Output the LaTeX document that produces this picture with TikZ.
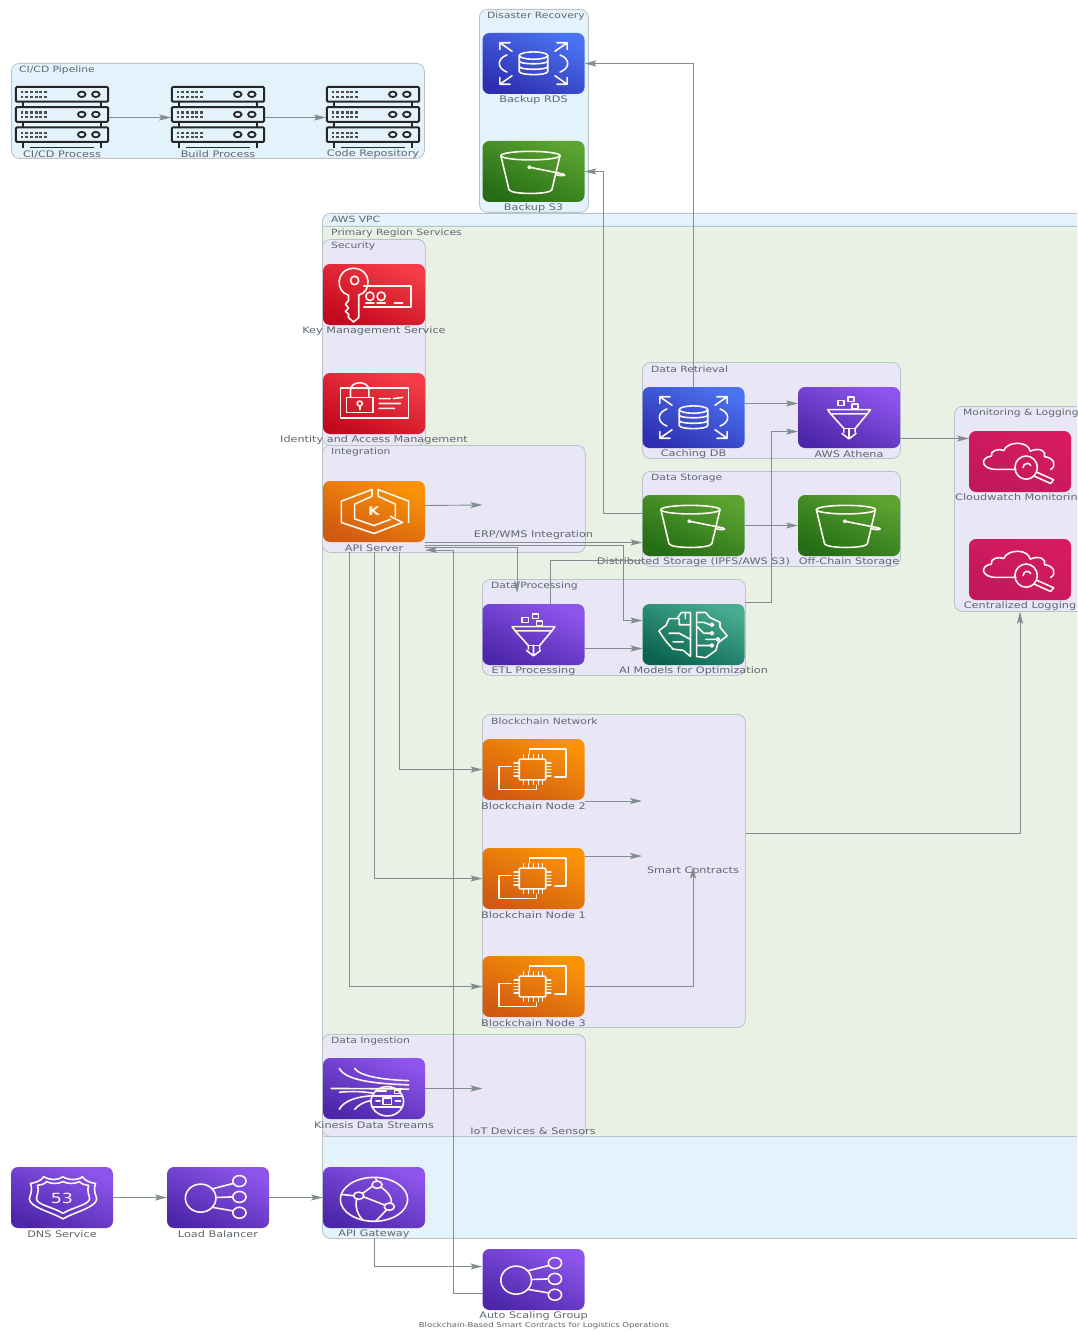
\documentclass[tikz,border=0pt]{standalone}
\usepackage{fontspec}
\setmainfont[FakeStretch=1.25]{DejaVu Sans}
\usetikzlibrary{arrows.meta}
\definecolor{linec}{HTML}{828D92}
\definecolor{edgec}{HTML}{B9C3C8}
\definecolor{textc}{HTML}{5E676E}
\definecolor{bluebg}{HTML}{E3F2FB}
\definecolor{greenbg}{HTML}{E8F1E4}
\definecolor{lavbg}{HTML}{E9E6F6}
\definecolor{iconline}{HTML}{FBF6EE}
\definecolor{rdA}{HTML}{C20A1E}\definecolor{rdB}{HTML}{F53C48}
\definecolor{orA}{HTML}{D05A12}\definecolor{orB}{HTML}{FA9405}
\definecolor{puA}{HTML}{4D27AA}\definecolor{puB}{HTML}{8E55EC}
\definecolor{blA}{HTML}{2E2FB0}\definecolor{blB}{HTML}{4A72F2}
\definecolor{grA}{HTML}{246D14}\definecolor{grB}{HTML}{5CA332}
\definecolor{teA}{HTML}{0A6350}\definecolor{teB}{HTML}{48AC92}
\definecolor{piA}{HTML}{C2185B}\definecolor{piB}{HTML}{D81B60}
\tikzset{
  cluster/.style={draw=edgec,line width=.8pt,rounded corners=8pt},
  bluec/.style={cluster,fill=bluebg},
  greenc/.style={cluster,fill=greenbg,rounded corners=2pt},
  lavc/.style={cluster,fill=lavbg},
  title/.style={anchor=west,yshift=-.8pt,text=textc,font=\fontsize{8.6}{10}\selectfont,inner sep=0pt},
  lab/.style={text=textc,font=\fontsize{9}{11}\selectfont,inner sep=0pt},
  conn/.style={draw=linec,line width=.9pt,-{Stealth[length=12pt,width=6pt,inset=2.5pt]}},
  plainconn/.style={draw=linec,line width=.9pt},
  svcbox/.style={minimum width=102pt,minimum height=61pt,inner sep=0pt,outer sep=0pt,rounded corners=7pt,shading=axis},
  rdI/.style={svcbox,bottom color=rdA,top color=rdB,shading angle=-25},
  orI/.style={svcbox,bottom color=orA,top color=orB,shading angle=-25},
  puI/.style={svcbox,bottom color=puA,top color=puB,shading angle=-25},
  blI/.style={svcbox,bottom color=blA,top color=blB,shading angle=-25},
  grI/.style={svcbox,bottom color=grA,top color=grB,shading angle=-25},
  teI/.style={svcbox,bottom color=teA,top color=teB,shading angle=-25},
  piI/.style={svcbox,bottom color=piA,top color=piB,shading angle=-25},
  wht/.style={draw=iconline,line width=1.6pt,line join=round,line cap=round},
  srvbox/.style={minimum width=94pt,minimum height=61pt,inner sep=0pt,outer sep=0pt},
  hollow/.style={minimum width=102pt,minimum height=61pt,inner sep=0pt,outer sep=0pt},
  iconchar/.style={text=iconline,inner sep=0pt},
}
% #1 name, #2 cx, #3 top y, #4 style, #5 label
\newcommand{\svc}[5]{%
  \node[#4] (#1) at (#2,#3+30.5) {};
  \node[lab] (#1-l) at (#2,#3+67) {#5};
}
\newcommand{\srv}[3]{%
  \node[srvbox] (#1) at (#2,117.5) {};
  \node[lab] (#1-l) at (#2,154.5) {#3};
  \begin{scope}[shift={(#1.north west)},x=.94pt,y=-.61pt]
    \foreach \yy in {0,33,66}{
      \draw[black!85,line width=2pt,rounded corners=1pt] (1,\yy) rectangle (99,\yy+24);
      \foreach \xx in {6,11,16,21,26,31}{
        \fill[black!70] (\xx,\yy+7) rectangle ++(3,3.6);
        \fill[black!70] (\xx,\yy+14) rectangle ++(3,3.6);
      }
      \draw[black!85,line width=1.8pt] (71,\yy+12) circle[x radius=4,y radius=4.5];
      \draw[black!85,line width=1.8pt] (86,\yy+12) circle[x radius=4,y radius=4.5];
    }
    \foreach \xx in {8,92}{
      \draw[black!85,line width=2pt] (\xx,24) -- (\xx,33) (\xx,57) -- (\xx,66) (\xx,90) -- (\xx,100);
    }
    \draw[black!85,line width=1.6pt] (16,99) -- (84,99);
  \end{scope}
}
\newenvironment{iconf}[1]{\begin{scope}[shift={(#1.north west)},x=1.02pt,y=-.61pt,every path/.append style={wht}]}{\end{scope}}
\newcommand{\rdsicon}[1]{\begin{iconf}{#1}
  \draw (36,37) -- (36,63) .. controls (36,70) and (64,70) .. (64,63) -- (64,37);
  \draw (50,37) ellipse[x radius=14,y radius=6];
  \draw (36,46) .. controls (36,52) and (64,52) .. (64,46);
  \draw (36,55) .. controls (36,61) and (64,61) .. (64,55);
  \draw (29,30) -- (17,16) (17,27) -- (17,16) -- (27,16);
  \draw (71,30) -- (83,16) (83,27) -- (83,16) -- (73,16);
  \draw (29,70) -- (17,84) (17,73) -- (17,84) -- (27,84);
  \draw (71,70) -- (83,84) (83,73) -- (83,84) -- (73,84);
  \draw (24,36) .. controls (14,42) and (14,58) .. (24,64);
  \draw (76,36) .. controls (86,42) and (86,58) .. (76,64);
\end{iconf}}
\newcommand{\bucketicon}[1]{\begin{iconf}{#1}
  \draw (47,24) ellipse[x radius=29,y radius=7];
  \draw (18,24) -- (26,80) .. controls (28,88) and (66,88) .. (68,80) -- (76,24);
  \draw (46,43) -- (79,54) .. controls (84,57) and (76,58) .. (72,55);
  \fill[iconline,draw=none] (46,43) circle[x radius=2,y radius=3];
\end{iconf}}
\newcommand{\funnelicon}[1]{\begin{iconf}{#1}
  \draw (39,22) rectangle (45,30) (49,16) rectangle (55,24) (53,28) rectangle (59,36);
  \draw (29,37) -- (71,37) (29,37) -- (32,44) -- (68,44) -- (71,37);
  \draw (32,44) -- (45,68) -- (45,74) (68,44) -- (56,68) -- (56,74);
  \draw (45,68) -- (56,68);
  \draw (50,68) -- (50,84) (43,76) -- (50,85) -- (57,76);
\end{iconf}}
\newcommand{\chipicon}[1]{\begin{iconf}{#1}
  \draw[rounded corners=1pt] (36,33) rectangle (62,67);
  \foreach \xx in {40,45,50,55,59}{\draw (\xx,33) -- (\xx,26) (\xx,67) -- (\xx,74);}
  \foreach \yy in {39,45,50,55,61}{\draw (36,\yy) -- (31,\yy) (62,\yy) -- (67,\yy);}
  \draw (46,24) -- (46,16) -- (82,16) -- (82,62) -- (71,62);
  \draw (28,45) -- (16,45) -- (16,83) -- (53,83) -- (53,76);
\end{iconf}}
\newcommand{\cloudicon}[1]{\begin{iconf}{#1}
  \draw (46,63) -- (27,63) .. controls (12,63) and (10,44) .. (22,41)
     .. controls (20,32) and (30,28) .. (34,32) .. controls (38,16) and (58,16) .. (60,33)
     .. controls (70,26) and (76,34) .. (74,42) .. controls (84,44) and (86,58) .. (80,63);
  \draw (56,60) circle[x radius=11,y radius=19];
  \draw (56,60) ++(-3,0) arc[start angle=180,end angle=330,x radius=4,y radius=7];
  \draw (64,74) -- (80,86) -- (83,80) -- (67,68);
\end{iconf}}
\newcommand{\kmsicon}[1]{\begin{iconf}{#1}
  \draw (25,51) .. controls (12,46) and (12,8) .. (30,7) .. controls (48,8) and (48,46) .. (35,51)
     -- (35,88) -- (30,95) -- (25,88) -- (25,82) -- (22,78) -- (25,72) -- (22,66) -- (25,60) -- cycle;
  \draw (31,27) circle[x radius=4,y radius=7];
  \draw (40,36) -- (86,36) -- (86,70) -- (40,70);
  \draw (46,53) circle[x radius=4,y radius=7] (57,53) circle[x radius=4,y radius=7];
  \draw (42,64) -- (50,64) (53,64) -- (61,64) (70,64) -- (78,64);
\end{iconf}}
\newcommand{\iamicon}[1]{\begin{iconf}{#1}
  \draw (17,25) rectangle (84,74);
  \draw (23,65) -- (23,40) -- (49,40) -- (49,65) -- cycle;
  \draw (27,40) -- (27,28) .. controls (27,12) and (45,12) .. (45,28) -- (45,40);
  \draw (36,50) circle[x radius=2.5,y radius=4];
  \draw (36,54) -- (36,60);
  \draw (55,42) -- (66,42) (69,42) -- (78,40) (55,50) -- (76,50) (55,58) -- (70,58);
\end{iconf}}
\newcommand{\eksicon}[1]{\begin{iconf}{#1}
  \draw (48,14) -- (18,33) -- (18,68) -- (50,86) -- (78,68) -- (66,58);
  \draw (54,14) -- (84,33) -- (84,68);
  \draw (48,14) -- (48,25) -- (31,38) -- (31,62) -- (50,73) -- (66,63);
  \draw (54,14) -- (54,25) -- (71,38) -- (71,58);
\end{iconf}
  \node[iconchar,font=\bfseries\fontsize{12}{12}\selectfont] (#1-k) at (#1) {K};
}
\newcommand{\brainicon}[1]{\begin{iconf}{#1}
  \draw (47,14) -- (38,14) -- (34,24) -- (26,24) -- (23,35) -- (16,44) -- (20,54) -- (24,63) -- (30,74) -- (40,76) -- (47,86) -- cycle;
  \draw (53,14) -- (53,86) -- (62,88) -- (72,76) -- (74,64) -- (83,52) -- (76,38) -- (76,30) -- (66,22) -- (62,14) -- cycle;
  \draw (26,48) -- (36,48) -- (47,58) (30,62) -- (40,62) (36,24) -- (36,34) -- (47,34) (42,14) -- (42,24);
  \draw (53,36) -- (60,48) -- (66,48) (53,30) -- (60,30) -- (66,34) (53,68) -- (66,68) (62,58) -- (72,58);
  \foreach \p/\q in {68/34,68/48,74/58,68/68}{\draw (\p,\q) circle[x radius=1.6,y radius=2.6];}
\end{iconf}}
\newcommand{\shieldicon}[1]{\begin{iconf}{#1}
  \draw (19,27) .. controls (24,26) and (30,22) .. (32,16) .. controls (38,22) and (46,22) .. (51,16) .. controls (56,22) and (66,22) .. (70,16) .. controls (72,22) and (78,26) .. (83,27)
     .. controls (80,40) and (84,48) .. (84,52) .. controls (84,66) and (62,74) .. (51,85) .. controls (40,74) and (18,66) .. (18,52) .. controls (18,48) and (22,40) .. (19,27) -- cycle;
  \draw (26,30) .. controls (32,29) and (34,26) .. (35,24) .. controls (40,28) and (46,28) .. (51,24) .. controls (56,28) and (62,28) .. (67,24) .. controls (68,26) and (70,29) .. (76,30)
     .. controls (74,40) and (77,46) .. (77,52) .. controls (77,62) and (60,66) .. (51,76) .. controls (42,66) and (25,62) .. (25,52) .. controls (25,46) and (28,40) .. (26,30) -- cycle;
\end{iconf}
  \node[iconchar,font=\fontsize{14}{14}\selectfont] (#1-k) at ([yshift=-1pt]#1.center) {53};
}
\newcommand{\globeicon}[1]{\begin{iconf}{#1}
  \draw (50,53) ellipse[x radius=33,y radius=36];
  \draw (53,29) circle[x radius=5,y radius=6] (35,47) circle[x radius=5,y radius=6] (65,65) circle[x radius=5,y radius=6];
  \draw (48,32) -- (39,43) (40,49) -- (60,62);
  \draw (57,33) .. controls (64,42) and (68,50) .. (67,59);
  \draw (33,53) .. controls (31,66) and (34,78) .. (39,87);
  \draw (30,47) -- (18,45) (62,71) -- (52,88);
  \draw (53,23) -- (51,17);
\end{iconf}}
\newcommand{\hubicon}[1]{\begin{iconf}{#1}
  \draw (33,51) ellipse[x radius=15,y radius=23];
  \draw (71,23) ellipse[x radius=6.5,y radius=9] (71,49) ellipse[x radius=6.5,y radius=9] (71,75) ellipse[x radius=6.5,y radius=9];
  \draw (44,36) -- (65,27) (48,50) -- (64,49) (44,66) -- (65,72);
\end{iconf}}
\newcommand{\kinesisicon}[1]{\begin{iconf}{#1}
  \draw (16,17) .. controls (22,36) and (48,42) .. (84,44);
  \draw (31,17) .. controls (36,30) and (60,36) .. (84,37);
  \draw (8,50) .. controls (20,50) and (36,50) .. (84,51);
  \draw (16,56) .. controls (30,54) and (40,55) .. (50,58);
  \draw (16,84) .. controls (20,72) and (30,64) .. (47,62);
  \draw (31,84) .. controls (34,78) and (40,72) .. (46,70);
  \draw (63,71) ellipse[x radius=16,y radius=24];
  \draw (48,62) -- (78,62) (48,80) -- (78,80);
  \draw (59,66) rectangle (67,76) (70,52) rectangle (76,58) (52,54) -- (62,54) (52,70) -- (56,70) (71,70) -- (76,70);
\end{iconf}}

\begin{document}
\begin{tikzpicture}[x=1pt,y=-1pt]
\path[use as bounding box] (0,0) rectangle (1077,1332);
\clip (0,0) rectangle (1077,1332);
\fill[white] (0,0) rectangle (1077,1332);

% clusters
\node[bluec,minimum width=413pt,minimum height=95pt,anchor=north west,inner sep=0pt] (cicdbox) at (11,63) {};
\node[title] (cicdt) at (19,69) {CI/CD Pipeline};
\node[bluec,minimum width=109pt,minimum height=203pt,anchor=north west,inner sep=0pt] (drbox) at (479,9) {};
\node[title] (drt) at (487,15) {Disaster Recovery};
\node[bluec,minimum width=800pt,minimum height=1025pt,anchor=north west,inner sep=0pt] (vpcbox) at (322,213) {};
\node[title] (vpct) at (331,219) {AWS VPC};
\node[greenc,minimum width=800pt,minimum height=910pt,anchor=north west,inner sep=0pt] (primbox) at (322,226) {};
\node[title] (primt) at (331,232) {Primary Region Services};
\node[lavc,minimum width=103pt,minimum height=206pt,anchor=north west,inner sep=0pt] (secbox) at (322,239) {};
\node[title] (sect) at (331,245) {Security};
\node[lavc,minimum width=263pt,minimum height=107pt,anchor=north west,inner sep=0pt] (intbox) at (322,445) {};
\node[title] (intt) at (331,451) {Integration};
\node[lavc,minimum width=258pt,minimum height=96pt,anchor=north west,inner sep=0pt] (retbox) at (642,362) {};
\node[title] (rett) at (651,368) {Data Retrieval};
\node[lavc,minimum width=258pt,minimum height=95pt,anchor=north west,inner sep=0pt] (stobox) at (642,471) {};
\node[title] (stot) at (651,477) {Data Storage};
\node[lavc,minimum width=160pt,minimum height=205pt,anchor=north west,inner sep=0pt] (monbox) at (954,406) {};
\node[title] (mont) at (963,412) {Monitoring \& Logging};
\node[lavc,minimum width=263pt,minimum height=96pt,anchor=north west,inner sep=0pt] (probox) at (482,579) {};
\node[title] (prot) at (491,585) {Data Processing};
\node[lavc,minimum width=263pt,minimum height=313pt,anchor=north west,inner sep=0pt] (blkbox) at (482,714) {};
\node[title] (blkt) at (491,720) {Blockchain Network};
\node[lavc,minimum width=263pt,minimum height=102pt,anchor=north west,inner sep=0pt] (ingbox) at (322,1034) {};
\node[title] (ingt) at (331,1040) {Data Ingestion};

% services
\srv{ci}{62}{CI/CD Process}
\srv{build}{218}{Build Process}
\srv{repo}{373}{Code Repository}
\svc{brds}{533.5}{33}{blI}{Backup RDS}\rdsicon{brds}
\svc{bs3}{533.5}{141}{grI}{Backup S3}\bucketicon{bs3}
\svc{kms}{374}{264}{rdI}{Key Management Service}\kmsicon{kms}
\svc{iam}{374}{373}{rdI}{Identity and Access Management}\iamicon{iam}
\svc{api}{374}{481}{orI}{API Server}\eksicon{api}
\svc{cache}{693.5}{387}{blI}{Caching DB}\rdsicon{cache}
\svc{athena}{849}{387}{puI}{AWS Athena}\funnelicon{athena}
\svc{dist}{693.5}{495}{grI}{Distributed Storage (IPFS/AWS S3)}\bucketicon{dist}
\svc{off}{849}{495}{grI}{Off-Chain Storage}\bucketicon{off}
\svc{cw}{1020}{431}{piI}{Cloudwatch Monitoring}\cloudicon{cw}
\svc{logs}{1020}{539}{piI}{Centralized Logging}\cloudicon{logs}
\svc{etl}{533.5}{604}{puI}{ETL Processing}\funnelicon{etl}
\svc{ai}{693.5}{604}{teI}{AI Models for Optimization}\brainicon{ai}
\svc{nodeb}{533.5}{739}{orI}{Blockchain Node 2}\chipicon{nodeb}
\svc{nodea}{533.5}{848}{orI}{Blockchain Node 1}\chipicon{nodea}
\svc{nodec}{533.5}{956}{orI}{Blockchain Node 3}\chipicon{nodec}
\svc{kin}{374}{1058}{puI}{Kinesis Data Streams}\kinesisicon{kin}
\svc{gw}{374}{1167}{puI}{API Gateway}\globeicon{gw}
\svc{dns}{62}{1167}{puI}{DNS Service}\shieldicon{dns}
\svc{lb}{218}{1167}{puI}{Load Balancer}\hubicon{lb}
\svc{asg}{533.5}{1249}{puI}{Auto Scaling Group}\hubicon{asg}
\node[hollow] (erp) at (533.5,511.5) {};
\node[lab] (erp-l) at (533.5,535) {ERP/WMS Integration};
\node[hollow] (sc) at (693,830) {};
\node[lab] (sc-l) at (693,870) {Smart Contracts};
\node[hollow] (iot) at (533.5,1098) {};
\node[lab] (iot-l) at (533,1131) {IoT Devices \& Sensors};
\node[text=textc,font=\fontsize{6.8}{8}\selectfont,inner sep=0pt] (maintitle) at (544,1326) {Blockchain-Based Smart Contracts for Logistics Operations};

% connectors
\draw[conn] (ci.east) -- (build.west);
\draw[conn] (build.east) -- (repo.west);
\draw[conn] ([yshift=12.5pt]dist.west) -- ++(-39,0) |- (bs3.east);
\draw[conn] (cache.north) |- (brds.east);
\draw[conn] ([yshift=14pt]cache.east) -- ([yshift=14pt]athena.west);
\draw[conn] ([yshift=2pt]ai.north east) -- ++(27,0) |- ([yshift=-14pt]athena.west);
\draw[conn] (dist.east) -- (off.west);
\draw[conn] ([yshift=-21pt]athena.east) -- ([yshift=23pt]cw.west);
\draw[conn] ([yshift=-.5pt]api.south east) -- ([yshift=-17pt]dist.west);
\draw[conn] ([yshift=-5.5pt]api.south east) -| ([xshift=-16.5pt,yshift=11pt]etl.north);
\draw[conn] ([yshift=-3pt]api.south east) -- ++(198,0) |- ([yshift=14pt]ai.west);
\draw[conn] (asg.west |- 0,1293) -- ++(-29,0) |- ([yshift=-8pt]api.south east);
\draw[plainconn] ([xshift=16.5pt]etl.north) |- (dist.west |- 0,560);
\draw[conn] ([yshift=-14pt]etl.east) -- ([yshift=-14pt]ai.west);
\draw[conn] ([xshift=25pt,yshift=-10pt]api.south) |- (nodeb.west);
\draw[conn] ([yshift=-10pt]api.south) |- (nodea.west);
\draw[conn] ([xshift=-25pt,yshift=-10pt]api.south) |- (nodec.west);
\draw[conn] ([yshift=-31.5pt]nodeb.east) -- ([xshift=-51pt,yshift=-31.5pt]sc.center |- nodeb.east);
\draw[conn] ([yshift=22.5pt]nodea.east) -- ([xshift=-51pt,yshift=22.5pt]sc.center |- nodea.east);
\draw[conn] (nodec.east) -| ([yshift=7pt]sc-l.south);
\draw[conn] ([yshift=37.5pt]blkbox.east) -| (logs.center |- monbox.south);
\draw[conn] (kin.east) -- (iot.west |- kin.east);
\draw[conn] ([yshift=6pt]api.east) -- (erp.west |- 0,505);
\draw[conn] (dns.east) -- (lb.west);
\draw[conn] (lb.east) -- (gw.west);
\draw[conn] ([yshift=-10pt]gw.south) |- ([yshift=13pt]asg.west);
\end{tikzpicture}
\end{document}
